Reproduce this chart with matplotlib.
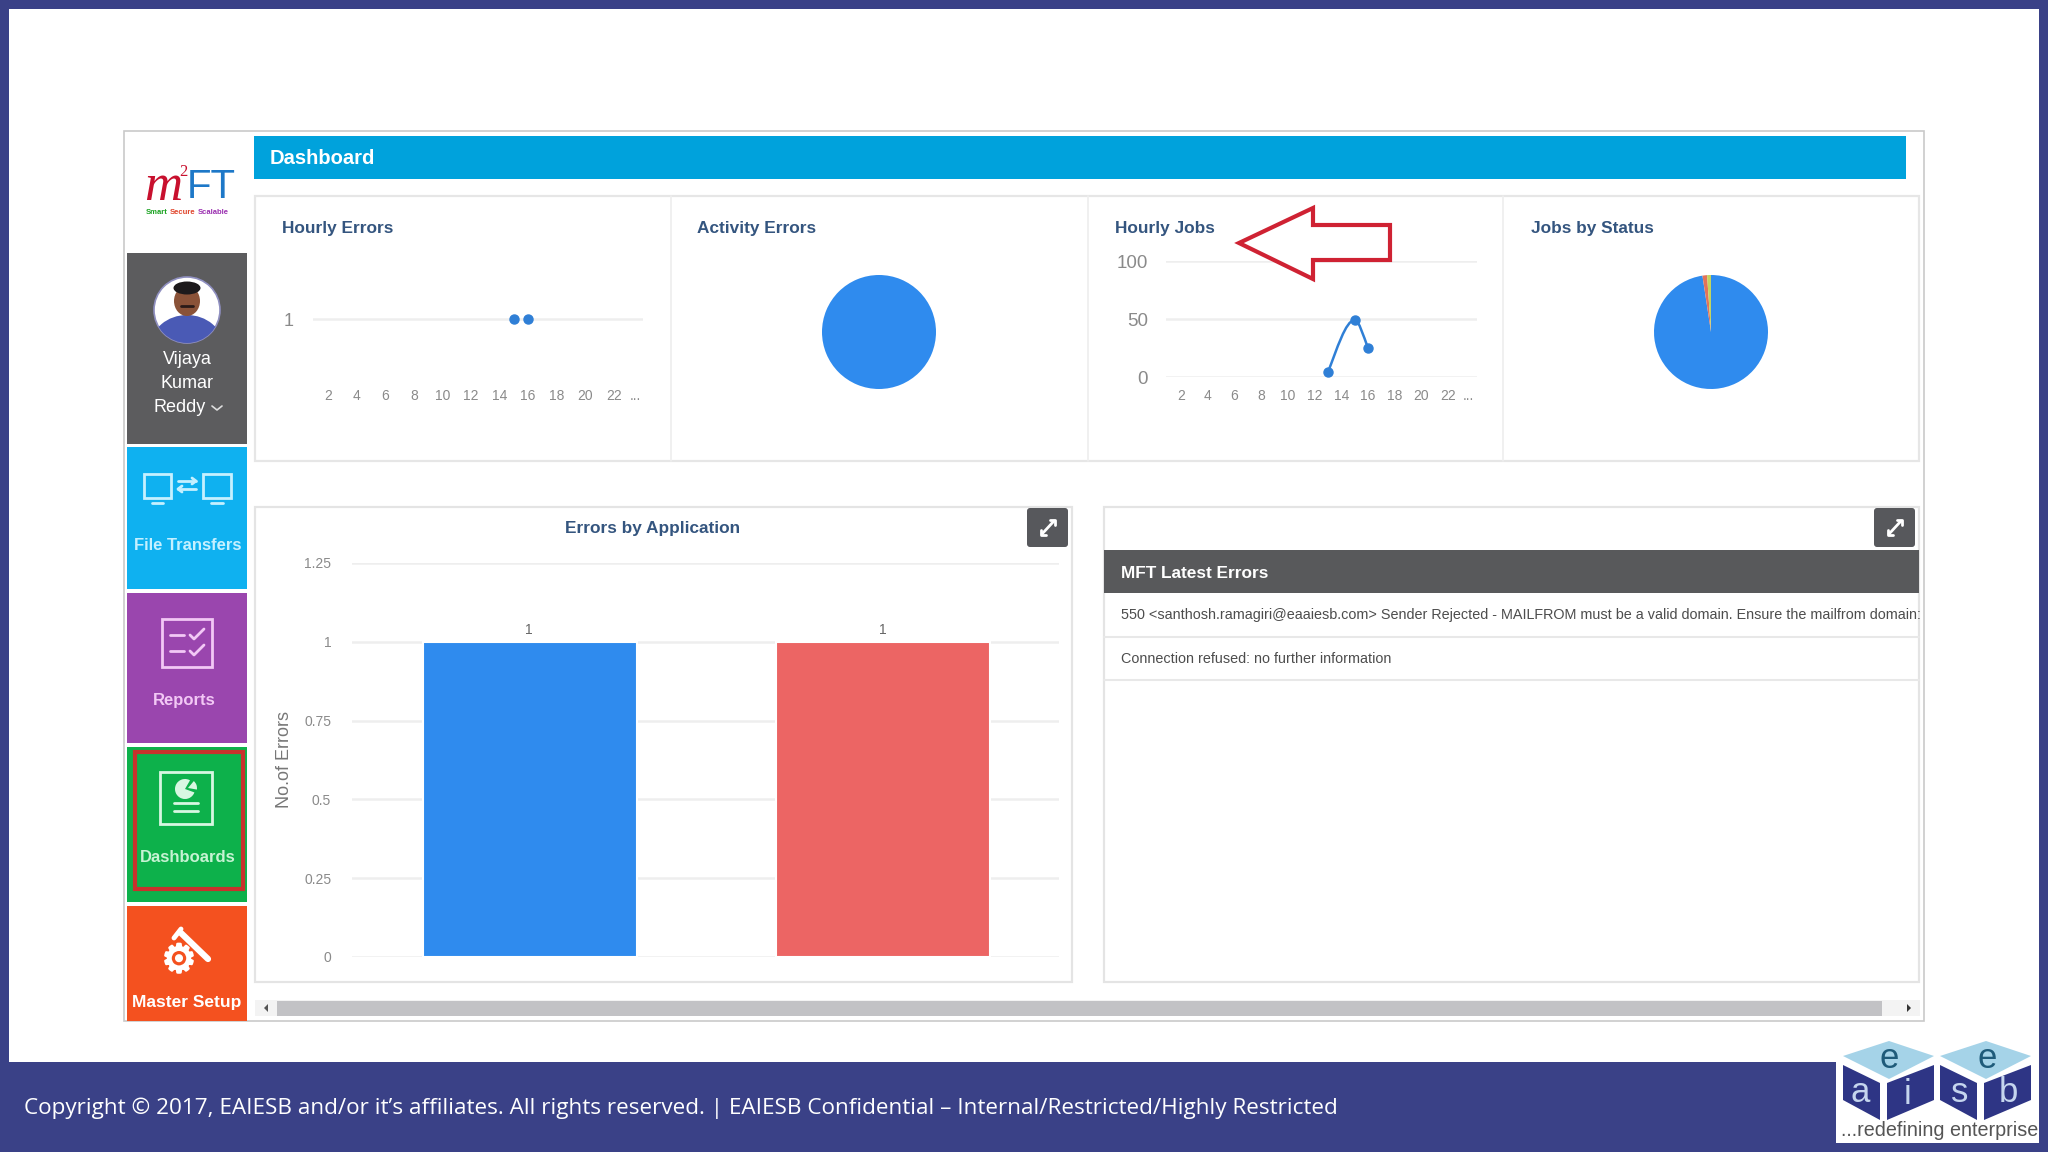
#!/usr/bin/env python3
import matplotlib
matplotlib.use("Agg")
import matplotlib.patheffects as pe
import matplotlib.pyplot as plt
from matplotlib.patches import Circle, Ellipse, FancyBboxPatch, PathPatch, Polygon, Rectangle, Wedge
from matplotlib.path import Path

W, H = 2048, 1152

plt.rcParams["font.family"] = ["Liberation Sans", "DejaVu Sans"]

NAVY = "#3a4187"
BLUE = "#2f8bee"
RED = "#ec6564"
GRID = "#eeeeee"
TICK = "#8a8a8a"
TITLE = "#34557f"

# chart data
hour_ticks = [2, 4, 6, 8, 10, 12, 14, 16, 18, 20, 22, 23.5]
hour_labels = ["2", "4", "6", "8", "10", "12", "14", "16", "18", "20", "22", "..."]
error_hours = [15, 16]
error_counts = [1, 1]
job_hours = [13, 15, 16]
job_counts = [4, 49, 25]
job_yticks = [0, 50, 100]
activity_values = [100]
status_values = [97.6, 1.3, 1.1]
status_colors = [BLUE, "#e2735a", "#c3d45e"]
apps = [0, 1]
app_errors = [1, 1]
app_colors = [BLUE, RED]
bar_yticks = [0, 0.25, 0.5, 0.75, 1, 1.25]
bar_ylabels = ["0", "0.25", "0.5", "0.75", "1", "1.25"]
latest_errors = [
    "550 <santhosh.ramagiri@eaaiesb.com> Sender Rejected - MAILFROM must be a valid domain. Ensure the mailfrom domain:",
    "Connection refused: no further information",
]
footer_text = ("Copyright © 2017, EAIESB and/or it’s affiliates. All rights reserved. | "
               "EAIESB Confidential – Internal/Restricted/Highly Restricted")


def px_axes(x0, y0, x1, y1):
    ax = fig.add_axes([x0 / W, 1 - y1 / H, (x1 - x0) / W, (y1 - y0) / H])
    ax.patch.set_alpha(0)
    return ax


def rect(x0, y0, x1, y1, color, **kw):
    bg.add_patch(Rectangle((x0, y0), x1 - x0, y1 - y0, facecolor=color, edgecolor="none", **kw))


def outline(x0, y0, x1, y1, color, lw=1.0):
    bg.add_patch(Rectangle((x0, y0), x1 - x0, y1 - y0, facecolor="none", edgecolor=color, linewidth=lw))


def line(xs, ys, color, lw=1.5):
    bg.plot(xs, ys, color=color, lw=lw, solid_capstyle="round")


def smooth_path(xs, ys):
    # bezier through the points, flat tangent at a local peak
    slopes = []
    for i in range(len(xs)):
        if i == 0:
            slopes.append((ys[1] - ys[0]) / (xs[1] - xs[0]) * 1.3)
        elif i == len(xs) - 1:
            slopes.append((ys[i] - ys[i - 1]) / (xs[i] - xs[i - 1]) * 1.3)
        else:
            slopes.append(0.0)
    verts = [(xs[0], ys[0])]
    codes = [Path.MOVETO]
    for i in range(len(xs) - 1):
        dx = (xs[i + 1] - xs[i]) / 3
        verts += [(xs[i] + dx, ys[i] + slopes[i] * dx),
                  (xs[i + 1] - dx, ys[i + 1] - slopes[i + 1] * dx),
                  (xs[i + 1], ys[i + 1])]
        codes += [Path.CURVE4] * 3
    return Path(verts, codes)


def hour_chart(ax, xlim, ylim, yticks, ylabels, ysize, ypad):
    ax.set_xlim(*xlim)
    ax.set_ylim(*ylim)
    ax.set_xticks(hour_ticks, hour_labels)
    ax.set_yticks(yticks, ylabels)
    ax.tick_params(axis="x", length=0, pad=9, labelsize=10, labelcolor=TICK)
    ax.tick_params(axis="y", length=0, pad=ypad, labelsize=ysize, labelcolor=TICK)
    ax.grid(True, axis="y", color=GRID, lw=1.8)
    ax.set_axisbelow(True)
    for s in ax.spines.values():
        s.set_visible(False)


fig = plt.figure(figsize=(W / 100, H / 100), dpi=100, facecolor="white")
bg = fig.add_axes([0, 0, 1, 1])
bg.set_xlim(0, W)
bg.set_ylim(H, 0)
bg.axis("off")

# slide frame and footer
rect(0, 0, W, 9, NAVY)
rect(0, 0, 9, H, NAVY)
rect(2039, 0, W, H, NAVY)
rect(0, 1062, W, H, NAVY)
bg.text(24, 1108, footer_text, color="white", fontsize=16.2, family="Open Sans", va="center")

# app window
outline(124, 131, 1924, 1021, "#c9c9c9", 1.2)
rect(254, 136, 1906, 179, "#00a2dc")
bg.text(270, 158.5, "Dashboard", color="white", fontsize=14.5, fontweight="bold", va="center")

# top cards
outline(255, 196, 1919, 461, "#e6e6e6", 1.6)
for x in [671, 1088, 1503]:
    line([x, x], [196, 461], "#eeeeee", 1.2)
for x, t in zip([282, 697, 1115, 1531], ["Hourly Errors", "Activity Errors", "Hourly Jobs", "Jobs by Status"]):
    bg.text(x, 229, t, color=TITLE, fontsize=12.4, fontweight="bold", va="center")

# sidebar
tiles = [(253, 444, "#5c5c5e"), (447, 589, "#0fb1f0"), (593, 743, "#9a46ae"),
         (747, 902, "#0db14b"), (906, 1021, "#f4511f")]
for y0, y1, c in tiles:
    rect(127, y0, 247, y1, c)
outline(135, 752, 243, 889, "#c8322c", 3)
sidebar_names = [("Vijaya", 360, "white"), ("Kumar", 384, "white"), ("Reddy", 408, "white")]
for t, y, c in sidebar_names:
    bg.text(187 if t != "Reddy" else 180, y, t, color=c, fontsize=13, ha="center", va="center")
line([212, 217, 222], [406, 410, 406], "#dddddd", 1.2)
bg.text(187.5, 546, "File Transfers", color="#c5f0ff", fontsize=12, fontweight="bold", ha="center", va="center")
bg.text(184, 701, "Reports", color="#f2c8f5", fontsize=12, fontweight="bold", ha="center", va="center")
bg.text(188, 858, "Dashboards", color="#c6f3d3", fontsize=12, fontweight="bold", ha="center", va="center")
bg.text(187, 1003, "Master Setup", color="white", fontsize=12.5, fontweight="bold", ha="center", va="center")

# avatar
avatar = Circle((187, 310), 33, facecolor="white", edgecolor="#8f8fc0", lw=1.2)
bg.add_patch(avatar)
shirt = Ellipse((187, 346), 72, 62, facecolor="#4a5ab5", edgecolor="none")
bg.add_patch(shirt)
shirt.set_clip_path(avatar)
bg.add_patch(Ellipse((187, 301), 26, 30, facecolor="#8a5238", edgecolor="none"))
bg.add_patch(Ellipse((187, 288), 27, 13, facecolor="#1d1a1c", edgecolor="none"))
line([181, 193], [306, 306], "#2a1a18", 2)

# sidebar icons
ICON_F = "#c5f0ff"
for x0, x1 in [(144, 171), (203, 231)]:
    outline(x0, 474, x1, 498, ICON_F, 2)
    line([x0 + 8, x1 - 8], [503, 503], ICON_F, 2)
line([178, 196], [481, 481], ICON_F, 2)
line([192, 196, 192], [478, 481, 484], ICON_F, 2)
line([178, 196], [489, 489], ICON_F, 2)
line([182, 178, 182], [486, 489, 492], ICON_F, 2)

ICON_R = "#f2c8f5"
outline(162, 619, 212, 667, ICON_R, 2)
for y in [635, 651]:
    line([170, 184], [y, y], ICON_R, 2)
    line([190, 194, 204], [y, y + 4, y - 6], ICON_R, 2)

ICON_D = "#d8f7e2"
outline(160, 772, 212, 824, ICON_D, 2)
bg.add_patch(Wedge((185, 789), 10, 20, 300, facecolor=ICON_D, edgecolor="none"))
bg.add_patch(Wedge((188, 788), 9, 310, 10, facecolor=ICON_D, edgecolor="none"))
for y, xa, xb in [(803, 174, 198), (811, 174, 198)]:
    line([xa, xb], [y, y], ICON_D, 2)

bg.text(179, 961, "⚙", color="white", fontsize=28, family="DejaVu Sans", ha="center", va="center",
        path_effects=[pe.withStroke(linewidth=1.6, foreground="white")])
line([181, 208], [933, 959], "white", 4.5)
line([174, 181], [938, 929], "white", 3.5)

# logo
bg.text(144, 187, "m", color="#c8102e", fontsize=38, family="Liberation Serif", style="italic", va="center")
bg.text(179, 172, "2", color="#c8102e", fontsize=12, family="Liberation Serif", va="center")
bg.text(187, 187, "FT", color="#1d78c8", fontsize=29, va="center")
logo_tag = [("Smart", 146, "#1aa321"), ("Secure", 170, "#e0442a"), ("Scalable", 198, "#9a2fb0")]
for t, x, c in logo_tag:
    bg.text(x, 212, t, color=c, fontsize=5.5, fontweight="bold", va="center")

# bottom cards
outline(255, 507, 1072, 982, "#e4e4e4", 1.6)
outline(1104, 507, 1919, 982, "#e4e4e4", 1.6)
for x0 in [1027, 1874]:
    bg.add_patch(FancyBboxPatch((x0 + 3, 511), 35, 33, boxstyle="round,pad=3", facecolor="#57585c", edgecolor="none"))
    line([x0 + 15, x0 + 27], [534, 521], "white", 2)
    line([x0 + 23, x0 + 28, x0 + 28], [520, 520, 525], "white", 2)
    line([x0 + 14, x0 + 14, x0 + 19], [530, 535, 535], "white", 2)
bg.text(653, 528.5, "Errors by Application", color=TITLE, fontsize=12.4, fontweight="bold", ha="center", va="center")

# latest errors table
rect(1104, 550, 1919, 593, "#58595b")
bg.text(1121, 573.5, "MFT Latest Errors", color="white", fontsize=12.4, fontweight="bold", va="center")
clip = Rectangle((1104, 594), 815, 100, transform=bg.transData)
for y, t in zip([615, 659], latest_errors):
    txt = bg.text(1121, y, t, color="#4d4d4d", fontsize=10.35, va="center")
    txt.set_clip_path(clip)
for y in [637, 680]:
    line([1104, 1919], [y, y], "#e8e8e8", 1.5)

# scrollbar
rect(255, 1000, 1920, 1016, "#f3f3f3")
rect(277, 1001, 1882, 1016, "#c2c2c5")
bg.add_patch(Polygon([(264, 1008), (268, 1004), (268, 1012)], facecolor="#555555"))
bg.add_patch(Polygon([(1911, 1008), (1907, 1004), (1907, 1012)], facecolor="#333333"))

# eaisb logo
rect(1836, 1042, 2039, 1143, "white")
for dx in [0, 97]:
    top = [(1843 + dx, 1056), (1889 + dx, 1041), (1934 + dx, 1056), (1889 + dx, 1079)]
    left = [(1843 + dx, 1065), (1880 + dx, 1083), (1880 + dx, 1120), (1843 + dx, 1100)]
    right = [(1887 + dx, 1083), (1934 + dx, 1065), (1934 + dx, 1100), (1887 + dx, 1120)]
    bg.add_patch(Polygon(top, facecolor="#a5d3e8", edgecolor="none"))
    bg.add_patch(Polygon(left, facecolor="#2e3585", edgecolor="none"))
    bg.add_patch(Polygon(right, facecolor="#2e3585", edgecolor="none"))
for t, x, y, c in [("e", 1889, 1059, "#1f5b7a"), ("e", 1987, 1059, "#1f5b7a"),
                   ("a", 1860, 1092, "#c5d5ee"), ("i", 1908, 1094, "#c5d5ee"),
                   ("s", 1960, 1092, "#c5d5ee"), ("b", 2008, 1092, "#c5d5ee")]:
    bg.text(x, y, t, color=c, fontsize=25, ha="center", va="center")
bg.text(2038, 1131, "...redefining enterprise", color="#555555", fontsize=14.2, ha="right", va="center")

# hourly errors
ax = px_axes(313, 261, 643, 377)
hour_chart(ax, (0.951, 24.03), (0, 2), [1], ["1"], 13, 14)
ax.plot(error_hours, error_counts, "o", color="#2f7fd6", ms=6.5, clip_on=False)

# hourly jobs
ax = px_axes(1166, 261, 1477, 377)
hour_chart(ax, (0.876, 24.17), (0, 100), job_yticks, [str(v) for v in job_yticks], 13.5, 13)
ax.add_patch(PathPatch(smooth_path(job_hours, job_counts), facecolor="none", edgecolor="#2f7fd6", lw=1.8))
ax.plot(job_hours, job_counts, "o", color="#2f7fd6", ms=6.5, clip_on=False)

# pies
ax = px_axes(822, 275, 936, 389)
ax.pie(activity_values, colors=[BLUE], radius=1, startangle=90)
ax.set_xlim(-1, 1)
ax.set_ylim(-1, 1)

ax = px_axes(1654, 275, 1768, 389)
ax.pie(status_values, colors=status_colors, radius=1, startangle=90, counterclock=False)
ax.set_xlim(-1, 1)
ax.set_ylim(-1, 1)

# errors by application
ax = px_axes(352, 563, 1059, 957)
ax.bar(apps, app_errors, width=0.605, color=app_colors, edgecolor="white", linewidth=1.5, zorder=3)
for x, v in zip(apps, app_errors):
    ax.text(x - 0.002, v + 0.037, str(v), color="#666666", fontsize=10, ha="center", va="center")
ax.set_xlim(-0.503, 1.497)
ax.set_ylim(0, 1.25)
ax.set_xticks([])
ax.set_yticks(bar_yticks, bar_ylabels)
ax.tick_params(axis="y", length=0, pad=15, labelsize=10, labelcolor=TICK)
ax.grid(True, axis="y", color=GRID, lw=1.8)
ax.set_axisbelow(True)
for s in ax.spines.values():
    s.set_visible(False)
ax.set_ylabel("No.of Errors", color="#777777", fontsize=13)
ax.yaxis.set_label_coords(-0.083, 0.5)

# red arrow, drawn over the chart
over = px_axes(0, 0, W, H)
over.set_xlim(0, W)
over.set_ylim(H, 0)
over.axis("off")
arrow_pts = [(1239, 243), (1313, 208), (1313, 225), (1390, 225), (1390, 260), (1313, 260), (1313, 279)]
over.add_patch(Polygon(arrow_pts, closed=True, facecolor="white", edgecolor="#cf2233", lw=3, joinstyle="miter"))

fig.savefig("out.png", dpi=100)
